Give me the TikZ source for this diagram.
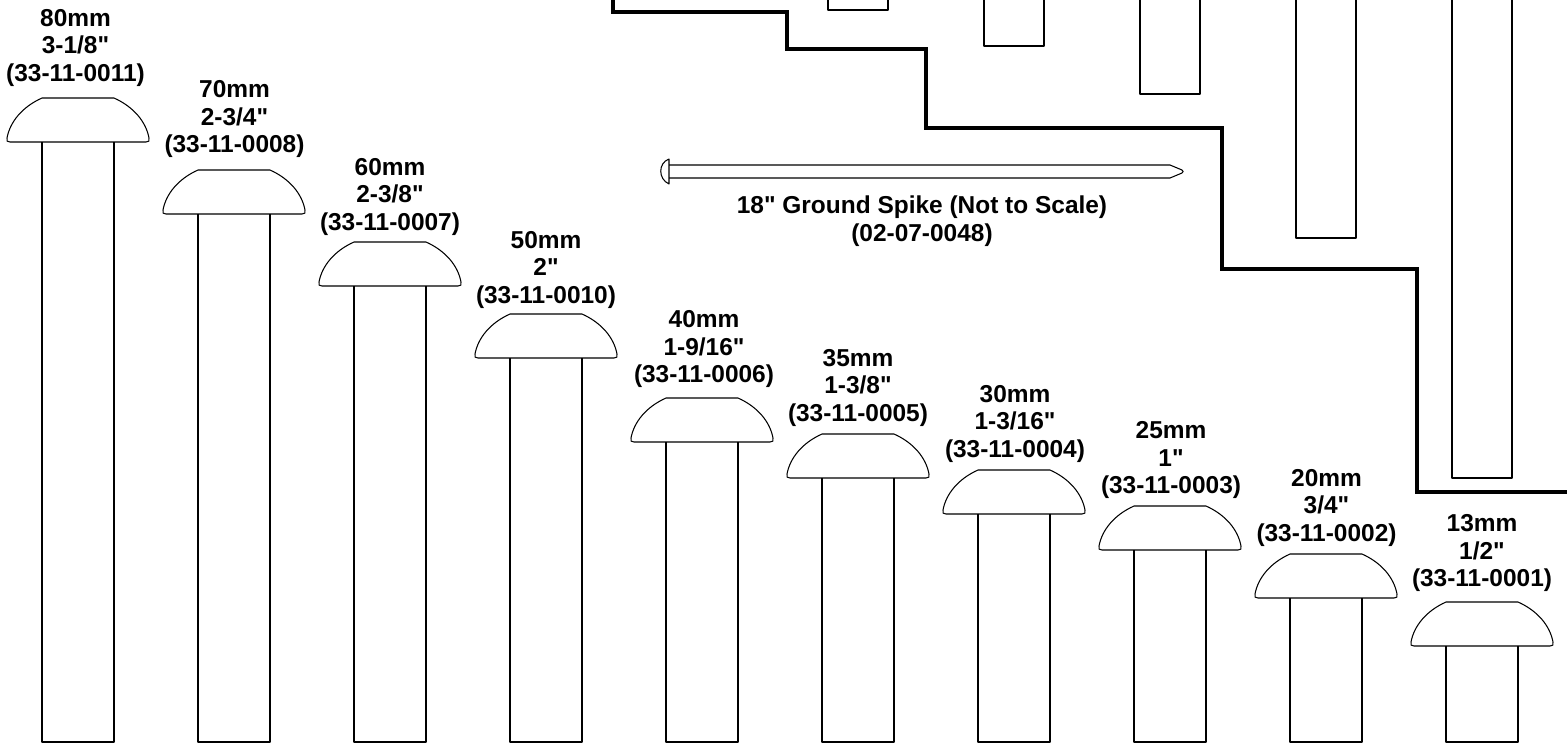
\documentclass[tikz,border=0pt]{standalone}
\usepackage{fontspec}
\newfontfamily\lblfont{Liberation Sans}
\tikzset{
  outline/.style={draw=black,line width=1.05pt,line join=round},
  steppath/.style={draw=black,line width=3.4pt,line join=miter},
  lbl/.style={font=\lblfont\fontsize{24.45}{27.5}\selectfont\bfseries,align=center,anchor=base,inner sep=0pt}
}
\begin{document}
\begin{tikzpicture}[x=1pt,y=-1pt]
\useasboundingbox (0,0) rectangle (1567,747);
\fill[white] (0,0) rectangle (1567,747);
% nails: shank left x / head top y / label offsets / text
\foreach \sx/\hy/\ox/\oy/\la/\lb/\lc in {
 42/98/-2.5/1/80mm/3-1\slash 8"/33-11-0011,
 198/170/0.5/0.5/70mm/2-3\slash 4"/33-11-0008,
 354/242/0/6/60mm/2-3\slash 8"/33-11-0007,
 510/314/0/7/50mm/2"/33-11-0010,
 666/398/2/2.5/40mm/1-9\slash 16"/33-11-0006,
 822/434/0/5/35mm/1-3\slash 8"/33-11-0005,
 978/470/1/5/30mm/1-3\slash 16"/33-11-0004,
 1134/506/1/5.5/25mm/1"/33-11-0003,
 1290/554/0.5/5/20mm/3\slash 4"/33-11-0002,
 1446/602/0/2.5/13mm/1\slash 2"/33-11-0001}{
  \draw[outline] (\sx,\hy+44) -- (\sx,742) -- (\sx+72,742) -- (\sx+72,\hy+44);
  \draw[outline] (\sx,\hy) -- (\sx+72,\hy)
     .. controls (\sx+92,\hy+9) and (\sx+104,\hy+24) .. (\sx+107,\hy+40)
     .. controls (\sx+107.5,\hy+43) and (\sx+107,\hy+44) .. (\sx+104,\hy+44)
     -- (\sx-32,\hy+44)
     .. controls (\sx-35,\hy+44) and (\sx-35.5,\hy+43) .. (\sx-35,\hy+40)
     .. controls (\sx-32,\hy+24) and (\sx-20,\hy+9) .. cycle;
  \node[lbl] (t\sx) at (\sx+36+\ox,\hy-18+\oy) {\la\\\lb\\(\lc)};
}
% clipped nails at the top
\foreach \rx/\ry in {828/10,984/46,1140/94,1296/238,1452/478}{
  \draw[outline] (\rx,0) -- (\rx,\ry) -- (\rx+60,\ry) -- (\rx+60,0);
}
% stepped divider
\draw[steppath] (613,0) -- (613,12) -- (787,12) -- (787,49) -- (926,49) -- (926,128)
  -- (1222,128) -- (1222,269) -- (1417,269) -- (1417,492) -- (1567,492);
% ground spike
\draw[outline,fill=white] (669,159) .. controls (658,163) and (658,179) .. (669,184) -- cycle;
\draw[outline] (669,165) -- (1170,165) -- (1182,170) .. controls (1183.5,171) and (1183.5,172) .. (1182,173)
  -- (1170,178) -- (669,178);
\node[lbl] (spike) at (922,241) {18" Ground Spike (Not to Scale)\\(02-07-0048)};
\end{tikzpicture}
\end{document}
